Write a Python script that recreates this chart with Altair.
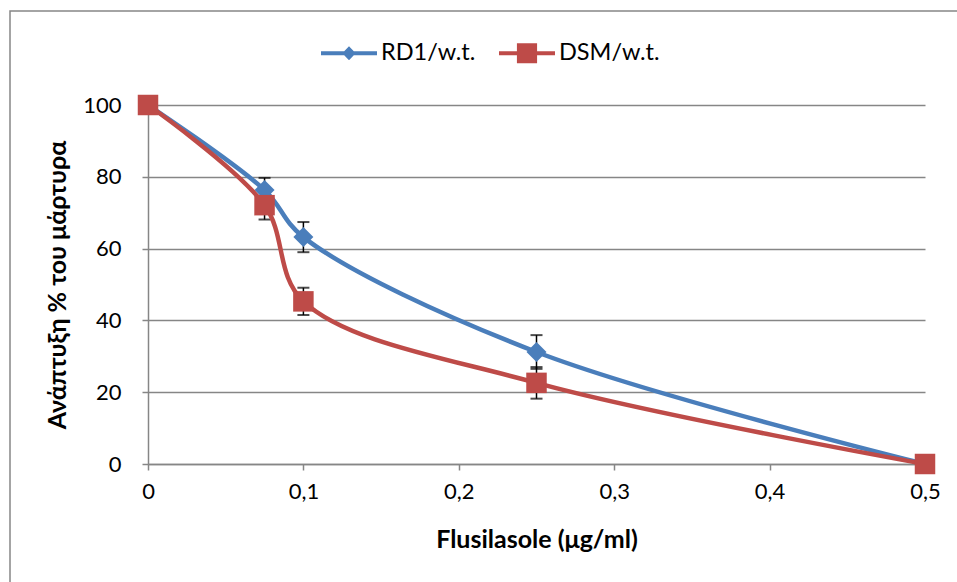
import altair as alt
import pandas as pd

# data
doses = [0, 0.075, 0.1, 0.25, 0.5]
rd1 = [100, 76.3, 63.2, 31.2, 0]
rd1_err = [0, 3.4, 4.2, 4.7, 0]
dsm = [100, 72.1, 45.3, 22.6, 0]
dsm_err = [0, 4.0, 3.8, 4.4, 0]
series_names = ["RD1/w.t.", "DSM/w.t."]
colors = ["#4A7EBB", "#BE4B48"]
x_ticks = [0, 0.1, 0.2, 0.3, 0.4, 0.5]
y_ticks = [0, 20, 40, 60, 80, 100]

rows = []
for name, vals, errs in [(series_names[0], rd1, rd1_err), (series_names[1], dsm, dsm_err)]:
    for d, v, e in zip(doses, vals, errs):
        rows.append({"dose": d, "value": v, "lo": v - e, "hi": v + e, "series": name})
df = pd.DataFrame(rows)
df_err = df[df["hi"] > df["lo"]]

FONT = "Lato"
color_scale = alt.Scale(domain=series_names, range=colors)

x_enc = alt.X(
    "dose:Q",
    scale=alt.Scale(domain=[0, 0.5], nice=False),
    axis=alt.Axis(
        values=x_ticks,
        labelExpr="datum.value == 0 ? '0' : replace(format(datum.value, '.1f'), '.', ',')",
        title="Flusilasole (μg/ml)",
        grid=False,
        tickSize=6,
        labelPadding=11,
        labelFlush=False,
        titlePadding=25,
    ),
)
y_enc = alt.Y(
    "value:Q",
    scale=alt.Scale(domain=[0, 100], nice=False),
    axis=alt.Axis(
        values=y_ticks,
        title="Ανάπτυξη % του μάρτυρα",
        grid=True,
        tickSize=6,
        labelPadding=21,
        labelFlush=False,
        titlePadding=12,
    ),
)

base = alt.Chart(df)

err_rules = alt.Chart(df_err).mark_rule(color="black", strokeWidth=1.5).encode(
    x=alt.X("dose:Q"), y=alt.Y("lo:Q"), y2="hi:Q"
)
err_lo = alt.Chart(df_err).mark_tick(color="black", orient="horizontal", size=12, thickness=2).encode(
    x="dose:Q", y="lo:Q"
)
err_hi = alt.Chart(df_err).mark_tick(color="black", orient="horizontal", size=12, thickness=2).encode(
    x="dose:Q", y="hi:Q"
)


def series_layers(name, col, shape, size):
    sub = base.transform_filter(alt.datum.series == name)
    line = sub.mark_line(interpolate="catmull-rom", strokeWidth=4.5, color=col).encode(
        x=x_enc, y=y_enc
    )
    pts = sub.mark_point(shape=shape, filled=True, size=size, opacity=1, color=col).encode(
        x="dose:Q", y="value:Q"
    )
    return line, pts


l1, p1 = series_layers(series_names[0], colors[0], "diamond", 400)
l2, p2 = series_layers(series_names[1], colors[1], "square", 420)

legend_paths = [
    "M-1,-0.075 L1,-0.075 L1,0.075 L-1,0.075 Z M0,-0.25 L0.24,0 L0,0.25 L-0.24,0 Z",
    "M-1,-0.075 L1,-0.075 L1,0.075 L-1,0.075 Z M-0.36,-0.36 L0.36,-0.36 L0.36,0.36 L-0.36,0.36 Z",
]
legend_def = alt.Legend(
    title=None,
    orient="none",
    direction="horizontal",
    legendX=173,
    legendY=-80,
    symbolSize=3136,
    symbolStrokeWidth=0,
    symbolOpacity=1,
    labelFont=FONT,
    labelFontSize=23.5,
    labelColor="black",
    labelOffset=4,
    columnPadding=23,
    padding=0,
)
dummy = base.mark_point(filled=True, opacity=0).encode(
    x="dose:Q",
    y="value:Q",
    color=alt.Color("series:N", scale=color_scale, legend=legend_def),
    shape=alt.Shape("series:N", scale=alt.Scale(domain=series_names, range=legend_paths), legend=legend_def),
)

frame = alt.Chart(pd.DataFrame({"k": [0]})).mark_rect(
    fill=None, stroke="#868686", strokeWidth=1.5
).encode(
    x=alt.value(-138), x2=alt.value(1000), y=alt.value(-94), y2=alt.value(600)
)

chart = alt.layer(frame, err_rules, err_lo, err_hi, l1, p1, l2, p2, dummy).properties(
    width=777,
    height=359,
    autosize=alt.AutoSizeParams(type="none"),
    padding={"left": 148, "top": 105, "right": 32, "bottom": 118},
    background="white",
).configure_view(stroke=None).configure_axis(
    domainColor="#868686",
    domainWidth=1.5,
    tickColor="#868686",
    tickWidth=1.5,
    gridColor="#868686",
    gridWidth=1.5,
    labelFont=FONT,
    labelFontSize=22,
    labelColor="black",
    titleFont=FONT,
    titleFontSize=25,
    titleFontWeight="bold",
    titleColor="black",
)

chart.save("out.html", embed_options={"renderer": "svg", "actions": False})
